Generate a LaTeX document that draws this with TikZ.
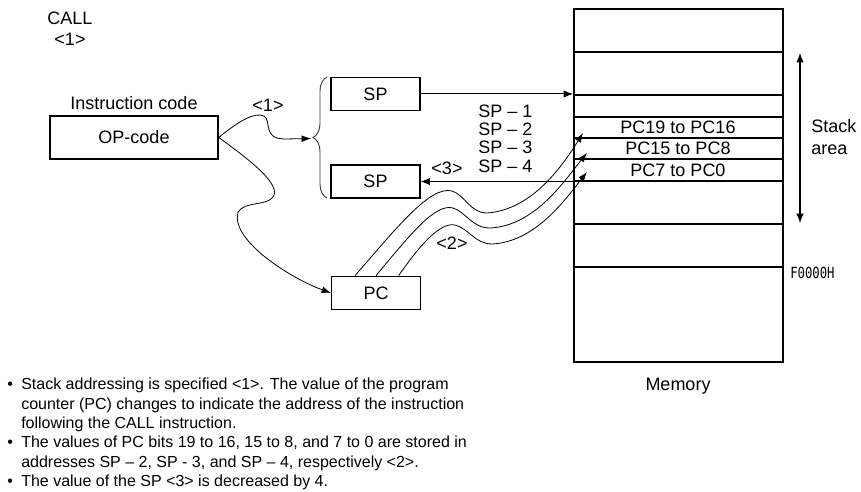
\documentclass[tikz,border=0pt]{standalone}
\usepackage{fontspec}
\setmainfont{Liberation Sans}
\newfontfamily\addrfont[FakeStretch=0.8]{DejaVu Sans Mono}
\usetikzlibrary{positioning,arrows.meta,decorations.pathreplacing}
\tikzset{node distance=2pt, auto}
\tikzset{
  reg/.style={draw, line width=1.1pt, minimum width=66.5pt, minimum height=25pt, inner sep=0pt},
  memline/.style={line width=1.4pt},
  wire/.style={line width=0.75pt, -{Latex[length=7pt,width=5.5pt]}},
  curve/.style={line width=0.6pt, -{Latex[length=7pt,width=5pt]}}
}

\begin{document}
\begin{tikzpicture}[x=0.75pt, y=-0.75pt, font=\fontsize{13.5}{16}\selectfont]
\useasboundingbox (0,0) rectangle (861,492);

\node[align=center] (call) at (70,29) {CALL\\<1>};

\node[draw, line width=1.1pt, minimum width=126pt, minimum height=32pt] (op) at (134,137.5) {OP-code};
\node[above=1pt of op] (opname) {Instruction code};

\node[reg] (sp1) at (375.5,94) {SP};
\node[reg] (sp2) at (375.5,181.5) {SP};
\node[reg] (pc) at (376,293) {PC};

% memory
\node[draw, memline, minimum width=156.75pt, minimum height=264.75pt, inner sep=0pt] (mem) at (678.5,185.5) {};
\foreach \y in {52,95,117,138,159,181,224,267}
  \draw[memline] (mem.west |- 0,\y) -- (mem.east |- 0,\y);
\node (r1) at (678,127.5) {PC19 to PC16};
\node (r2) at (678,148.5) {PC15 to PC8};
\node (r3) at (678,170) {PC7 to PC0};
\node (memname) at (678,386) {Memory};
\node[anchor=west, inner sep=0pt] (addr) at (790,273) {\addrfont\fontsize{11.5}{13}\selectfont F0000H};

\coordinate (stop) at (800,53);
\coordinate (sbot) at (800,223);
\draw[line width=0.8pt, {Latex[length=7pt,width=5.5pt]}-{Latex[length=7pt,width=5.5pt]}] (stop) -- (sbot);
\node[align=left, anchor=west, inner sep=0pt, font=\fontsize{13.5}{16.5}\selectfont] (stack) at (811,137) {Stack\\area};

% brace and <1>
\draw[black!75, line width=0.7pt, decorate, decoration={brace, amplitude=10.5pt}]
  (327,198) -- (327,77);
\coordinate (brtip) at (311,138.5);
\draw[curve] (op.east) .. controls (240,120) and (255,112) .. (264,116)
  .. controls (272,121) and (262,139) .. (285,139) -- (brtip);
\node (one) at (268,105) {<1>};
\draw[curve] (op.east) .. controls (250,160) and (282,185) .. (273,197)
  .. controls (267,206) and (245,201) .. (238,212)
  .. controls (230,240) and (290,278) .. (pc.west);

% SP arrows
\draw[wire] (sp1.east) -- (sp1.east -| mem.west);
\draw[wire] (sp2.east -| mem.west) -- (sp2.east);
\node (three) at (447,168) {<3>};
\node[align=left, anchor=west, inner sep=0pt, font=\fontsize{13.5}{13.7}\selectfont] (offs) at (478,138.5) {SP -- 1\\SP -- 2\\SP -- 3\\SP -- 4};

% PC to stack
\coordinate (in1) at (583,133);
\coordinate (in2) at (587,153);
\coordinate (in3) at (587,172);
\draw[curve] ([xshift=-15.75pt]pc.north) .. controls (395,230) and (430,185) .. (452,191)
  .. controls (465,195) and (470,213) .. (487,213) .. controls (530,210) and (560,170) .. (in1);
\draw[curve] (pc.north) .. controls (410,235) and (435,203) .. (453,208)
  .. controls (466,212) and (472,228) .. (490,228) .. controls (535,226) and (565,180) .. (in2);
\draw[curve] ([xshift=17pt]pc.north) .. controls (420,245) and (440,222) .. (455,225)
  .. controls (468,228) and (475,244) .. (492,244) .. controls (535,242) and (565,200) .. (in3);
\node (two) at (452,243) {<2>};

% notes
\node[align=left, anchor=north west, inner sep=0pt, font=\fontsize{12}{14.5}\selectfont] (notes) at (7,378)
  {\makebox[10.5pt][l]{\textbullet}Stack addressing is specified <1>. The value of the program\\
   \hspace*{10.5pt}counter (PC) changes to indicate the address of the instruction\\
   \hspace*{10.5pt}following the CALL instruction.\\
   \makebox[10.5pt][l]{\textbullet}The values of PC bits 19 to 16, 15 to 8, and 7 to 0 are stored in\\
   \hspace*{10.5pt}addresses SP -- 2, SP - 3, and SP -- 4, respectively <2>.\\
   \makebox[10.5pt][l]{\textbullet}The value of the SP <3> is decreased by 4.};
\end{tikzpicture}
\end{document}
